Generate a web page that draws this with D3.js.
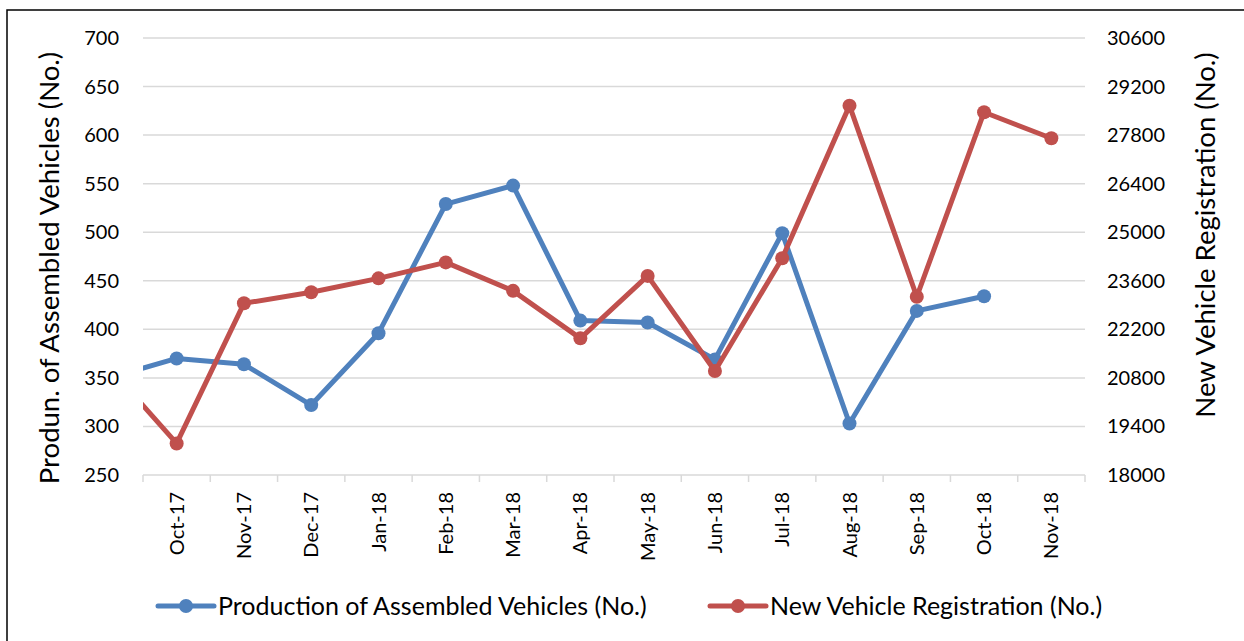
<!DOCTYPE html>
<html>
<head>
<meta charset="utf-8">
<script src="https://cdn.jsdelivr.net/npm/d3@7"></script>
<style>
  body { margin: 0; background: #fff; }
  text { font-family: Lato, "Liberation Sans", sans-serif; fill: #000; }
</style>
</head>
<body>
<div id="chart"></div>
<script>
// months shown on the axis
const months = ["Oct-17", "Nov-17", "Dec-17", "Jan-18", "Feb-18", "Mar-18", "Apr-18",
  "May-18", "Jun-18", "Jul-18", "Aug-18", "Sep-18", "Oct-18", "Nov-18"];

// Sep-17 sits just left of the plot and gets clipped
const priorProduction = 350;
const priorRegistration = 21100;

const production = [370, 364, 322, 396, 529, 548, 409, 407, 369, 499, 303, 419, 434, null];
const registration = [18910, 22950, 23270, 23670, 24130, 23310, 21940, 23740, 21000, 24250,
  28650, 23140, 28460, 27710];

const leftTicks = [250, 300, 350, 400, 450, 500, 550, 600, 650, 700];
const rightTicks = [18000, 19400, 20800, 22200, 23600, 25000, 26400, 27800, 29200, 30600];

const settings = {
  width: 1244,
  height: 641,
  blue: "#4F81BD",
  red: "#C0504D",
  grid: "#D9D9D9",
  lineWidth: 5,
  markerR: 7,
  tickFont: "20px",
  titleFont: "27.5px",
  legendFont: "25px",
};

const plot = { left: 143, right: 1085, top: 38, bottom: 475 };

const svg = d3.select("#chart").append("svg")
  .attr("width", settings.width)
  .attr("height", settings.height);

// outer frame (only top and left edges fall inside the picture)
svg.append("rect")
  .attr("x", 7).attr("y", 10)
  .attr("width", 1400).attr("height", 800)
  .attr("fill", "none").attr("stroke", "#000").attr("stroke-width", 1.5);

const x = d3.scaleBand().domain(months).range([plot.left, plot.right]);
const cx = d => x(d) + x.bandwidth() / 2;
const yLeft = d3.scaleLinear().domain([250, 700]).range([plot.bottom, plot.top]);
const yRight = d3.scaleLinear().domain([18000, 30600]).range([plot.bottom, plot.top]);

// gridlines
svg.append("g").selectAll("line").data(leftTicks.slice(1)).join("line")
  .attr("x1", plot.left).attr("x2", plot.right)
  .attr("y1", d => yLeft(d)).attr("y2", d => yLeft(d))
  .attr("stroke", settings.grid).attr("stroke-width", 1.5);

// x axis: line + ticks between categories
const xAxis = svg.append("g").attr("transform", `translate(0,${plot.bottom})`);
xAxis.append("line")
  .attr("x1", plot.left).attr("x2", plot.right)
  .attr("stroke", settings.grid).attr("stroke-width", 1.5);
const boundaries = months.map(m => x(m)).concat([plot.right]);
xAxis.selectAll("line.tick").data(boundaries).join("line")
  .attr("class", "tick")
  .attr("x1", d => d).attr("x2", d => d)
  .attr("y1", 0).attr("y2", 7)
  .attr("stroke", settings.grid).attr("stroke-width", 1.5);
xAxis.selectAll("text").data(months).join("text")
  .attr("transform", d => `translate(${cx(d) + 7},${17}) rotate(-90)`)
  .attr("text-anchor", "end")
  .attr("font-size", settings.tickFont)
  .text(d => d);

// left axis labels
svg.append("g").selectAll("text").data(leftTicks).join("text")
  .attr("x", 119).attr("y", d => yLeft(d) + 7)
  .attr("text-anchor", "end")
  .attr("font-size", settings.tickFont)
  .text(d => d);

// right axis labels
svg.append("g").selectAll("text").data(rightTicks).join("text")
  .attr("x", 1107).attr("y", d => yRight(d) + 7)
  .attr("text-anchor", "start")
  .attr("font-size", settings.tickFont)
  .text(d => d);

// axis titles
svg.append("text")
  .attr("transform", "translate(59,268) rotate(-90)")
  .attr("text-anchor", "middle")
  .attr("font-size", settings.titleFont)
  .text("Produn. of Assembled Vehicles (No.)");
svg.append("text")
  .attr("transform", "translate(1215,235) rotate(-90)")
  .attr("text-anchor", "middle")
  .attr("font-size", settings.titleFont)
  .text("New Vehicle Registration (No.)");

// series, clipped to the plot area
svg.append("clipPath").attr("id", "plotClip")
  .append("rect")
  .attr("x", plot.left).attr("y", 0)
  .attr("width", plot.right - plot.left).attr("height", settings.height);

function drawSeries(values, prior, yScale, color) {
  const step = x.step();
  const pts = [{ px: cx(months[0]) - step, v: prior }]
    .concat(months.map((m, i) => ({ px: cx(m), v: values[i] })))
    .filter(d => d.v != null);
  const g = svg.append("g").attr("clip-path", "url(#plotClip)");
  g.append("path")
    .datum(pts)
    .attr("d", d3.line().x(d => d.px).y(d => yScale(d.v)))
    .attr("fill", "none")
    .attr("stroke", color)
    .attr("stroke-width", settings.lineWidth)
    .attr("stroke-linejoin", "round");
  g.selectAll("circle").data(pts.slice(1)).join("circle")
    .attr("cx", d => d.px).attr("cy", d => yScale(d.v))
    .attr("r", settings.markerR)
    .attr("fill", color);
}

drawSeries(production, priorProduction, yLeft, settings.blue);
drawSeries(registration, priorRegistration, yRight, settings.red);

// legend
const legendItems = [
  { label: "Production of Assembled Vehicles (No.)", color: settings.blue, x: 158 },
  { label: "New Vehicle Registration (No.)", color: settings.red, x: 710 },
];
const legend = svg.append("g").attr("transform", "translate(0,606)");
legendItems.forEach(item => {
  legend.append("line")
    .attr("x1", item.x).attr("x2", item.x + 56)
    .attr("stroke", item.color).attr("stroke-width", settings.lineWidth)
    .attr("stroke-linecap", "round");
  legend.append("circle")
    .attr("cx", item.x + 28).attr("r", settings.markerR)
    .attr("fill", item.color);
  legend.append("text")
    .attr("x", item.x + 60).attr("y", 9)
    .attr("font-size", settings.legendFont)
    .text(item.label);
});
</script>
</body>
</html>
